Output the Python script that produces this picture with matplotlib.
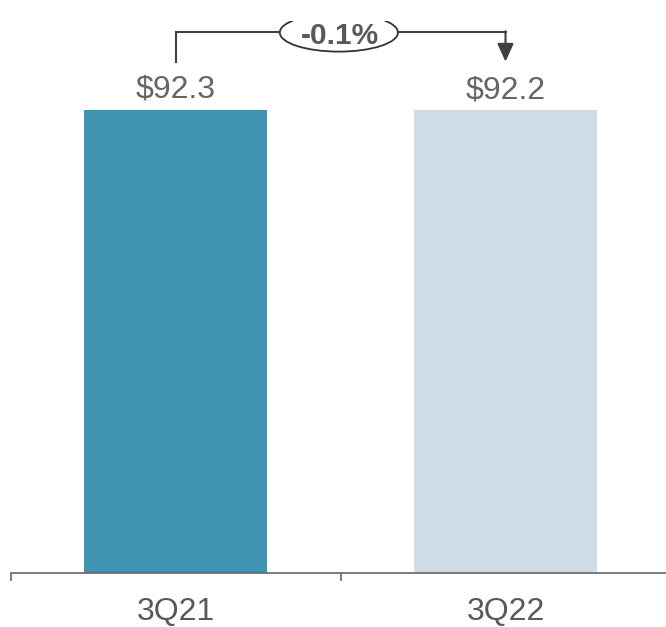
import matplotlib.pyplot as plt
from matplotlib.patches import Ellipse

plt.rcParams['font.family'] = ['Liberation Sans', 'DejaVu Sans']

quarters = ["3Q21", "3Q22"]
values = [92.3, 92.2]
labels = ["$92.3", "$92.2"]
change = "-0.1%"
colors = ["#3E94B1", "#CFDDE6"]

fig = plt.figure(figsize=(6.66, 6.27), dpi=100)
ax = fig.add_axes([10.5 / 666, 54 / 627, 660 / 666, 552 / 627])

x = range(len(quarters))
ax.bar(x, values, width=0.555, color=colors)

for i, (v, lab) in enumerate(zip(values, labels)):
    ax.annotate(lab, (i, v), xytext=(0, 8.6), textcoords="offset points",
                ha="center", va="baseline", fontsize=23, color="#666666")

# change bracket between the two bars
top = max(values)
y_br = top + 15.5
y_leg = top + 9.6
line_col = "#404040"
ax.plot([0, 0, 1], [y_leg, y_br, y_br], color=line_col, lw=1.5,
        solid_joinstyle="miter", zorder=3)
ax.annotate("", xy=(1, y_leg), xytext=(1, y_br + 0.15),
            arrowprops=dict(arrowstyle="-|>,head_length=1.1,head_width=0.5",
                            color=line_col, lw=1.5, shrinkA=0, shrinkB=0),
            zorder=3)
ax.add_patch(Ellipse((0.495, y_br - 0.1), 0.358, 7.6, facecolor="white",
                     edgecolor="#333333", lw=1.3, zorder=4))
ax.text(0.497, y_br - 0.2, change, ha="center", va="center_baseline", fontsize=21.5,
        fontweight="bold", color="#595959", zorder=5)

ax.set_xlim(-0.5, 1.5)
ax.set_ylim(0, 110)
ax.set_xticks(list(x))
ax.set_xticklabels(quarters, fontsize=23, color="#595959")
ax.set_xticks([-0.5, 0.5], minor=True)
ax.tick_params(axis="x", which="major", length=0, pad=17)
ax.tick_params(axis="x", which="minor", length=5.5, width=1.2, color="#666666",
               direction="out")
ax.set_yticks([])
for s in ["left", "top", "right"]:
    ax.spines[s].set_visible(False)
ax.spines["bottom"].set_color("#666666")
ax.spines["bottom"].set_linewidth(1.2)
ax.patch.set_alpha(0)

fig.savefig("out.png", dpi=100)
